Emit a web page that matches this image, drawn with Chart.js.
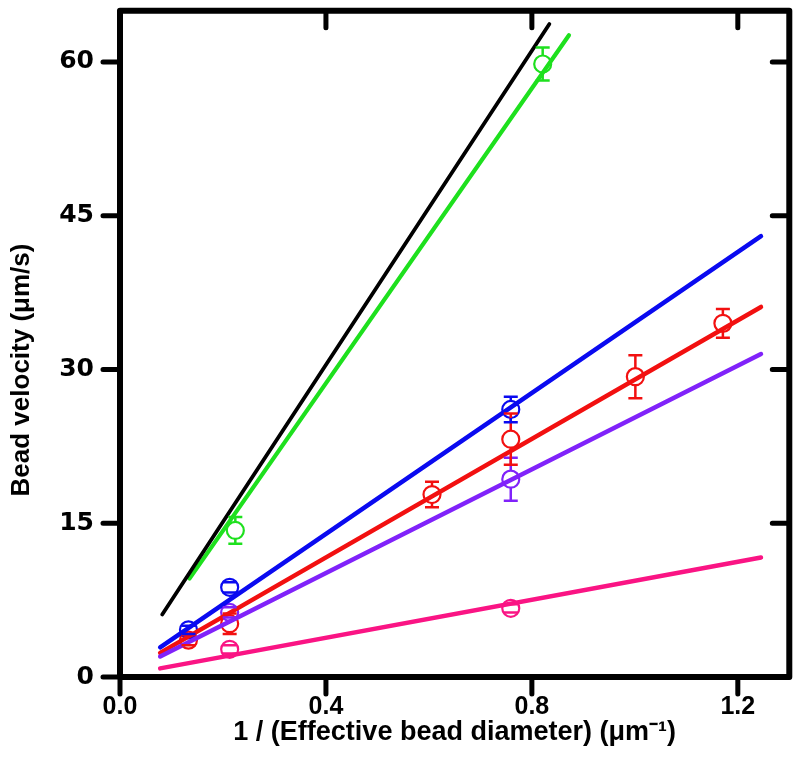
<!DOCTYPE html>
<html><head><meta charset="utf-8">
<script src="https://cdn.jsdelivr.net/npm/chart.js@4.4.0/dist/chart.umd.min.js"></script>
<style>html,body{margin:0;padding:0;background:#fff}#wrap{width:800px;height:776px;position:relative}</style>
</head><body><div id="wrap"><canvas id="c"></canvas></div>
<script>
// Tick values
const xTicks = [0.0, 0.4, 0.8, 1.2];
const yTicks = [0, 15, 30, 45, 60];

// Measured points (x = 1/effective bead diameter, y = velocity, err = error bar half-height)
const blueX = [0.133, 0.213, 0.759];
const blueY = [4.6, 8.75, 26.1];
const blueErr = [0.4, 0.5, 1.25];

const redX = [0.133, 0.213, 0.606, 0.759, 1.001, 1.171];
const redY = [3.6, 5.2, 17.8, 23.2, 29.3, 34.5];
const redErr = [0.5, 1.0, 1.25, 2.5, 2.1, 1.4];

const purpleX = [0.213, 0.759];
const purpleY = [6.3, 19.3];
const purpleErr = [0.5, 2.1];

const pinkX = [0.213, 0.759];
const pinkY = [2.7, 6.7];
const pinkErr = [0.4, 0.4];

const greenX = [0.224, 0.821];
const greenY = [14.3, 59.8];
const greenErr = [1.3, 1.6];

// Fitted lines (end points)
const fitX = [0.078, 1.245];
const blueFit = [2.9, 43.0];
const redFit = [2.35, 36.1];
const purpleFit = [2.0, 31.5];
const pinkFit = [0.84, 11.66];
const blackFitX = [0.082, 0.834];
const blackFit = [6.1, 63.7];
const greenFitX = [0.135, 0.872];
const greenFit = [9.6, 62.6];

const yTitle = 'Bead velocity (\u03bcm/s)';
const xTitle = '1 / (Effective bead diameter) (\u03bcm\u207b\u00b9)';

const COL = {blue:'#0a0af0', red:'#f21010', purple:'#8022fa', pink:'#fa1484', green:'#1ee01e', black:'#000000'};

const pts = (xs, ys) => xs.map((v, i) => ({x: v, y: ys[i]}));

function fitDs(xs, ys, color, w) {
  return {type:'scatter', showLine:true, data: pts(xs, ys), borderColor: color, borderWidth: w,
    pointRadius: 0, pointHoverRadius: 0, fill:false, borderCapStyle:'round'};
}
function ptDs(xs, ys, errs, color) {
  return {type:'scatter', data: pts(xs, ys), errors: errs, borderColor: color,
    pointBorderColor: color, pointBackgroundColor:'rgba(0,0,0,0)', pointRadius: 8.5,
    pointBorderWidth: 2.2, pointHoverRadius: 8.5, showLine:false};
}

const errPlugin = {
  id: 'errbars',
  afterDatasetsDraw(chart) {
    const {ctx, scales: {x, y}} = chart;
    ctx.save();
    chart.data.datasets.forEach(ds => {
      if (!ds.errors) return;
      ctx.strokeStyle = ds.borderColor; ctx.lineWidth = 2.5; ctx.lineCap = 'butt';
      ds.data.forEach((p, i) => {
        const e = ds.errors[i];
        const px = x.getPixelForValue(p.x);
        const py = y.getPixelForValue(p.y);
        const top = y.getPixelForValue(p.y + e);
        const bot = y.getPixelForValue(p.y - e);
        const r = 8.5;
        ctx.beginPath();
        if (py - top > r) { ctx.moveTo(px, py - r); ctx.lineTo(px, top); }
        if (bot - py > r) { ctx.moveTo(px, py + r); ctx.lineTo(px, bot); }
        ctx.moveTo(px - 7, top); ctx.lineTo(px + 7, top);
        ctx.moveTo(px - 7, bot); ctx.lineTo(px + 7, bot);
        ctx.stroke();
      });
    });
    ctx.restore();
  },
  afterDraw(chart) {
    const {ctx, chartArea: a, scales: {x, y}} = chart;
    ctx.save();
    ctx.strokeStyle = '#000'; ctx.lineJoin = 'round'; ctx.lineCap = 'round';
    ctx.lineWidth = 6;
    ctx.strokeRect(a.left, a.top, a.right - a.left, a.bottom - a.top);
    ctx.lineWidth = 5;
    const L = 17;
    ctx.beginPath();
    xTicks.forEach(v => {
      const px = x.getPixelForValue(v);
      ctx.moveTo(px, a.bottom); ctx.lineTo(px, a.bottom + L);
      ctx.moveTo(px, a.top); ctx.lineTo(px, a.top + L);
    });
    yTicks.forEach(v => {
      const py = y.getPixelForValue(v);
      ctx.moveTo(a.left - L, py); ctx.lineTo(a.left, py);
      ctx.moveTo(a.right - L, py); ctx.lineTo(a.right, py);
    });
    ctx.stroke();
    // y axis title
    ctx.translate(22, 370);
    ctx.rotate(-Math.PI / 2);
    ctx.fillStyle = '#000';
    ctx.font = 'bold 26px "Liberation Sans", Arial, sans-serif';
    ctx.textAlign = 'center'; ctx.textBaseline = 'middle';
    ctx.fillText(yTitle, 0, 0);
    ctx.restore();
  }
};

new Chart(document.getElementById('c'), {
  type: 'scatter',
  data: {
    datasets: [
      fitDs(blackFitX, blackFit, COL.black, 3.8),
      fitDs(greenFitX, greenFit, COL.green, 4.2),
      fitDs(fitX, pinkFit, COL.pink, 4.5),
      fitDs(fitX, purpleFit, COL.purple, 4.5),
      fitDs(fitX, redFit, COL.red, 4.5),
      fitDs(fitX, blueFit, COL.blue, 4.5),
      ptDs(pinkX, pinkY, pinkErr, COL.pink),
      ptDs(purpleX, purpleY, purpleErr, COL.purple),
      ptDs(redX, redY, redErr, COL.red),
      ptDs(blueX, blueY, blueErr, COL.blue),
      ptDs(greenX, greenY, greenErr, COL.green)
    ]
  },
  options: {
    responsive: true, maintainAspectRatio: false, animation: false,
    layout: {padding: {top: 7, right: 10, left: 0, bottom: 0}},
    plugins: {legend: {display: false}, tooltip: {enabled: false}},
    scales: {
      x: {
        type: 'linear', min: 0, max: 1.3,
        afterBuildTicks: s => { s.ticks = xTicks.map(v => ({value: v})); },
        afterFit: s => { s.height = 99; s.paddingLeft = 0; s.paddingRight = 0; },
        grid: {display: false, drawTicks: false},
        border: {display: false},
        ticks: {color: '#000', padding: 15, maxRotation: 0,
          font: {family: '"Liberation Sans", Arial, sans-serif', size: 25, weight: 'bold'},
          callback: v => Number(v).toFixed(1)},
        title: {display: true, text: xTitle, color: '#000',
          font: {family: '"Liberation Sans", Arial, sans-serif', size: 27, weight: 'bold'},
          padding: {top: 0, bottom: 27}}
      },
      y: {
        type: 'linear', min: 0, max: 65,
        afterBuildTicks: s => { s.ticks = yTicks.map(v => ({value: v})); },
        afterFit: s => { s.width = 120; s.paddingTop = 0; s.paddingBottom = 0; },
        grid: {display: false, drawTicks: false},
        border: {display: false},
        ticks: {color: '#000', padding: 26,
          font: {family: '"DejaVu Sans", sans-serif', size: 25, weight: 'bold'},
          callback: v => String(v)},
        title: {display: false}
      }
    }
  },
  plugins: [errPlugin]
});
</script>
</body></html>
